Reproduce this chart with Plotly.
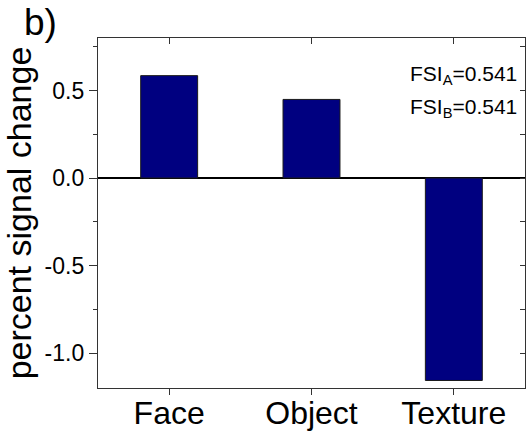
import plotly.graph_objects as go

categories = ["Face", "Object", "Texture"]
values = [0.585, 0.449, -1.157]
y_tickvals = [-1.0, -0.5, 0.0, 0.5]
y_ticktext = ["-1.0", "-0.5", "0.0", "0.5"]
panel_label = "b)"
y_title = "percent signal change"
fsi_lines = ["FSI<sub>A</sub>=0.541", "FSI<sub>B</sub>=0.541"]

FONT = "Liberation Sans, Arial, sans-serif"
W, H = 529, 434
ml, mr, mt, mb = 98, 4, 38, 46
pw, ph = W - ml - mr, H - mt - mb

def px(x):
    return (x - ml) / pw

def py(y):
    return (H - mb - y) / ph

fig = go.Figure()
fig.add_trace(go.Bar(
    x=categories, y=values, width=0.4,
    marker=dict(color="#000080", line=dict(color="#1a1a1a", width=1)),
    hoverinfo="skip", showlegend=False,
))
# invisible companion trace so the mirrored (top/right) axes are drawn
fig.add_trace(go.Scatter(
    x=categories, y=values, xaxis="x2", yaxis="y2", mode="markers",
    marker=dict(opacity=0), hoverinfo="skip", showlegend=False,
))

axis_line = "#333333"
fig.update_layout(
    width=W, height=H,
    margin=dict(l=ml, r=mr, t=mt, b=mb, autoexpand=False),
    paper_bgcolor="white", plot_bgcolor="white",
    font=dict(family=FONT, color="black"),
    bargap=0.6,
    xaxis=dict(
        type="category", categoryarray=categories, range=[-0.5, 2.5],
        automargin=False,
        showline=True, linecolor=axis_line, linewidth=1.3,
        ticks="outside", ticklen=6, tickwidth=1.2, tickcolor=axis_line,
        ticklabelstandoff=-10,
        tickfont=dict(size=32, family=FONT, color="black"),
        showgrid=False, zeroline=False, fixedrange=True,
    ),
    xaxis2=dict(
        type="category", categoryarray=categories, range=[-0.5, 2.5],
        overlaying="x", side="top", anchor="y", automargin=False,
        showline=True, linecolor=axis_line, linewidth=1.3,
        ticks="inside", ticklen=6, tickwidth=1.2, tickcolor=axis_line,
        showticklabels=False, showgrid=False, zeroline=False,
    ),
    yaxis=dict(
        range=[-1.2, 0.8], tickvals=y_tickvals, ticktext=y_ticktext,
        automargin=False,
        showline=True, linecolor=axis_line, linewidth=1.3,
        ticks="outside", ticklen=8, tickwidth=1.2, tickcolor=axis_line,
        minor=dict(dtick=0.25, tick0=0, ticks="outside", ticklen=4,
                   tickcolor=axis_line, tickwidth=1.2),
        tickfont=dict(size=23, family=FONT, color="black"),
        title=dict(text=y_title, font=dict(size=34, family=FONT, color="black"),
                   standoff=11),
        showgrid=False,
        zeroline=True, zerolinecolor="black", zerolinewidth=1.5,
    ),
    yaxis2=dict(
        range=[-1.2, 0.8], tickvals=y_tickvals,
        overlaying="y", side="right", anchor="x", automargin=False,
        showline=True, linecolor=axis_line, linewidth=1.3,
        ticks="inside", ticklen=5, tickwidth=1.2, tickcolor=axis_line,
        minor=dict(dtick=0.25, tick0=0, ticks="inside", ticklen=5,
                   tickcolor=axis_line, tickwidth=1.2),
        showticklabels=False, showgrid=False, zeroline=False,
    ),
)

fig.add_annotation(
    text=panel_label, xref="paper", yref="paper",
    x=px(22), y=py(0), xanchor="left", yanchor="top",
    showarrow=False, font=dict(size=37, family=FONT, color="black"),
)
for i, t in enumerate(fsi_lines):
    fig.add_annotation(
        text=t, xref="paper", yref="paper",
        x=px(519), y=py(60 + i * 33), xanchor="right", yanchor="top",
        showarrow=False, font=dict(size=21, family=FONT, color="black"),
    )

fig.write_html("out.html")
